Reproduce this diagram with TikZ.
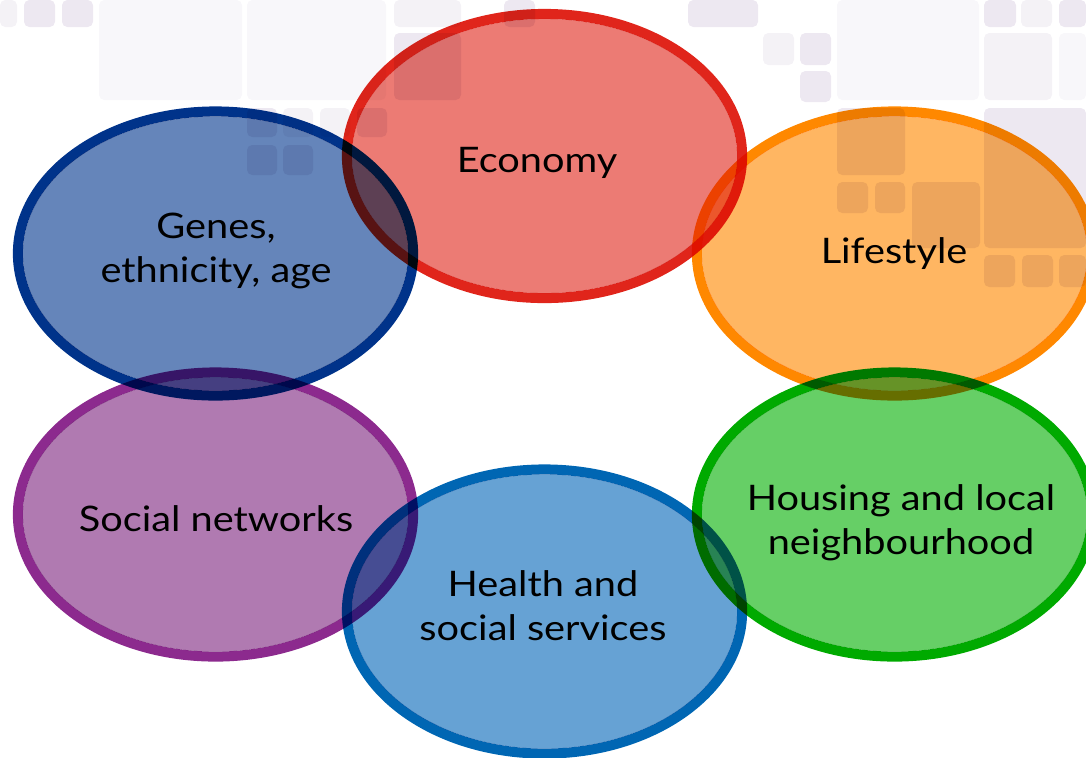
\documentclass[tikz,border=0pt]{standalone}
\usepackage{fontspec}
\setmainfont[FakeStretch=1.13]{Lato}
\usetikzlibrary{shapes.geometric, positioning}

\definecolor{ecoline}{HTML}{E0251B}
\definecolor{ecofill}{HTML}{EC7B74}
\definecolor{lifeline}{HTML}{FF8800}
\definecolor{lifefill}{HTML}{FFB662}
\definecolor{geneline}{HTML}{00338A}
\definecolor{genefill}{HTML}{6585BA}
\definecolor{socline}{HTML}{8C2A8E}
\definecolor{socfill}{HTML}{B07AB1}
\definecolor{healthline}{HTML}{0066B3}
\definecolor{healthfill}{HTML}{66A2D4}
\definecolor{houseline}{HTML}{00AA00}
\definecolor{housefill}{HTML}{66CF66}
\definecolor{sqA}{HTML}{EDE8F1}
\definecolor{sqB}{HTML}{F4F2F6}
\definecolor{sqC}{HTML}{F8F7FA}

\begin{document}
\begin{tikzpicture}[x=0.01cm, y=-0.01cm,
    blob/.style={ellipse, draw=#1, line width=0.1cm,
        minimum width=3.95cm, minimum height=2.84cm, inner sep=0pt},
    lbl/.style={align=center, font=\fontsize{10}{12.5}\selectfont}]
    \useasboundingbox (0,0) rectangle (1086,757);
    \clip (0,0) rectangle (1086,757);

    % faint tiles behind
    \foreach \xa/\ya/\xb/\yb/\sh in {0/0/17/27/sqB, 24/0/55/27/sqA, 62/0/93/27/sqA,
        99/0/242/100/sqC, 247/0/386/100/sqC, 394/0/461/27/sqB, 394/33/461/100/sqA,
        504/0/535/27/sqA, 688/0/758/27/sqA, 763/33/794/65/sqB, 800/33/831/65/sqA,
        800/71/831/102/sqA, 837/0/979/100/sqC, 984/0/1016/27/sqA, 1021/0/1052/27/sqB,
        1059/0/1086/27/sqA, 984/33/1052/100/sqB, 1059/33/1086/100/sqC,
        247/108/277/137/sqA, 283/108/313/137/sqB, 320/108/350/137/sqB, 357/108/387/137/sqA,
        247/145/277/175/sqA, 283/145/313/175/sqA, 837/108/905/175/sqA,
        837/182/868/213/sqA, 875/182/905/213/sqA, 912/182/980/248/sqA,
        984/108/1086/248/sqA, 984/255/1015/287/sqA, 1022/255/1053/287/sqA,
        1059/255/1086/287/sqA}
        \fill[\sh, rounded corners=1.5pt] (\xa,\ya) rectangle (\xb,\yb);

    \begin{scope}[blend mode=multiply]
        \node[blob=ecoline] (eco) at (544.5,156) {};
        \node[blob=lifeline] (life) at (894.5,253.5) {};
        \node[blob=geneline] (genes) at (215.5,253.5) {};
        \node[blob=socline] (social) at (215.5,514.5) {};
        \node[blob=healthline] (health) at (544.5,611.5) {};
        \node[blob=houseline] (housing) at (894.5,514.5) {};
        % fills stop at the inner edge of the rings
        \foreach \n/\f in {eco/ecofill, life/lifefill, genes/genefill,
            social/socfill, health/healthfill, housing/housefill}
            \fill[\f] (\n.center) ellipse [x radius=1.925cm, y radius=1.37cm];
    \end{scope}

    \node[lbl] (ecot) at (537,163) {Economy};
    \node[lbl] (lifet) at (894,254) {Lifestyle};
    \node[lbl] (genest) at (216,251) {Genes,\\ethnicity, age};
    \node[lbl] (socialt) at (216,519) {Social networks};
    \node[lbl] (healtht) at (543,606) {Health and\\social services};
    \node[lbl] (housingt) at (901,523) {Housing and local\\neighbourhood};
\end{tikzpicture}
\end{document}
